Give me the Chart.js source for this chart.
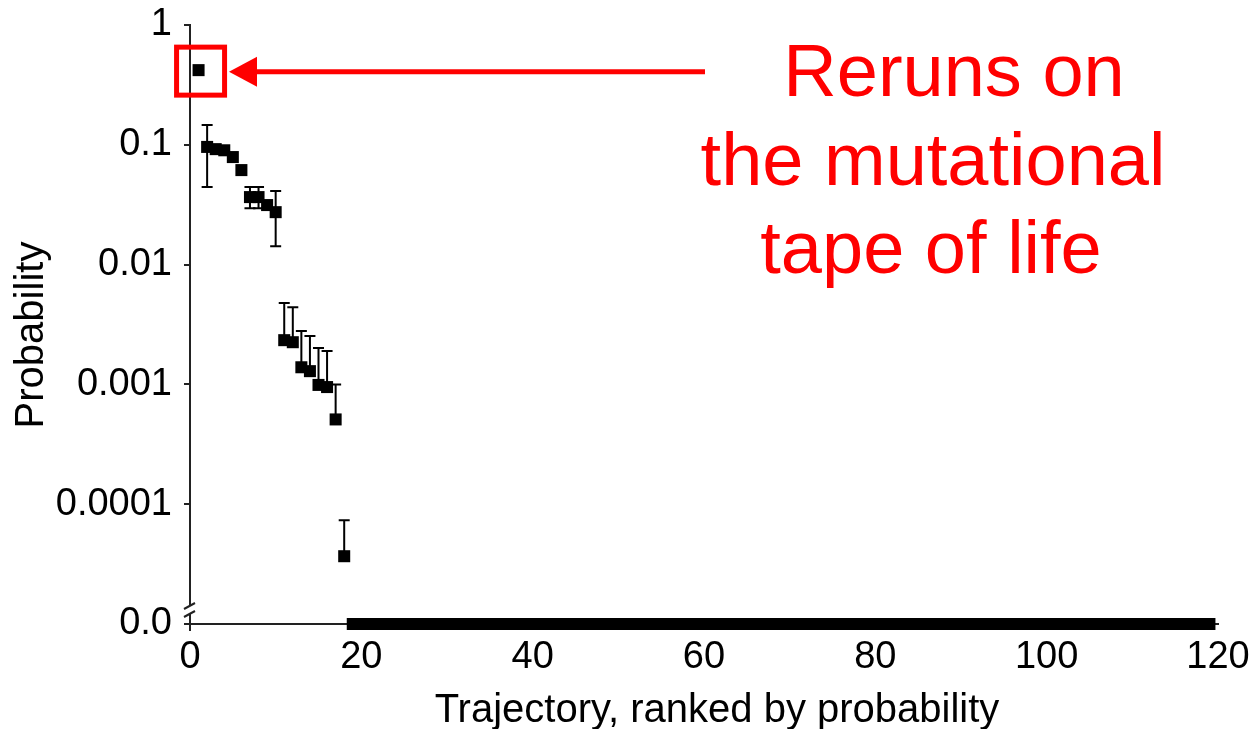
<!DOCTYPE html>
<html>
<head>
<meta charset="utf-8">
<title>Trajectory probability</title>
<script src="https://cdn.jsdelivr.net/npm/chart.js@4.4.1/dist/chart.umd.min.js"></script>
<style>
  html, body { margin: 0; padding: 0; background: #fff; }
  #wrap { width: 1255px; height: 729px; }
</style>
</head>
<body>
<div id="wrap"><canvas id="chart" width="1255" height="729"></canvas></div>
<script>
// trajectories seen at least once, ranked by probability
const ranks = [1, 2, 3, 4, 5, 6, 7, 8, 9, 10, 11, 12, 13, 14, 15, 16, 17, 18];
const probs = [0.42, 0.096, 0.092, 0.090, 0.079, 0.0615, 0.0366, 0.0366, 0.0314, 0.0274,
               0.00234, 0.00225, 0.00139, 0.00129, 0.00099, 0.00095, 0.00051, 0.0000368];
// error bar ends (null = not visible)
const errUpper = [null, 0.146, null, null, null, null, 0.0444, 0.0444, null, 0.0411,
                  0.00477, 0.00441, 0.00279, 0.00253, 0.00201, 0.0019, 0.001, 0.0000735];
const errLower = [null, 0.0444, null, null, null, null, 0.0296, 0.0296, null, 0.01426,
                  null, null, null, null, null, null, null, null];
// trajectories never observed (probability 0): first and last rank
const zeroRanks = [19, 119];

const xTicks = [0, 20, 40, 60, 80, 100, 120];
const yTicks = [1, 0.1, 0.01, 0.001, 0.0001, 0];
const yTickLabels = ['1', '0.1', '0.01', '0.001', '0.0001', '0.0'];
const xTitle = 'Trajectory, ranked by probability';
const yTitle = 'Probability';
const noteLines = ['Reruns on', 'the mutational', 'tape of life'];

const Y_FLOOR = 1e-5; // where "0.0" sits below the axis break
const toY = p => (p > 0 ? p : Y_FLOOR);
const FONT = '"Liberation Sans", Arial, sans-serif';

const overlay = {
    id: 'overlay',
    afterDatasetsDraw(chart) {
        const ctx = chart.ctx;
        const xs = chart.scales.x, ys = chart.scales.y;
        ctx.save();
        ctx.strokeStyle = '#000';
        ctx.lineWidth = 2;
        ranks.forEach((r, i) => {
            const px = xs.getPixelForValue(r);
            const py = ys.getPixelForValue(probs[i]);
            [errUpper[i], errLower[i]].forEach(e => {
                if (e == null) return;
                const ey = ys.getPixelForValue(e);
                ctx.beginPath();
                ctx.moveTo(px, py);
                ctx.lineTo(px, ey);
                ctx.moveTo(px - 5.5, ey);
                ctx.lineTo(px + 5.5, ey);
                ctx.stroke();
            });
        });
        ctx.restore();
    },
    afterDraw(chart) {
        const ctx = chart.ctx;
        const area = chart.chartArea;
        const xs = chart.scales.x, ys = chart.scales.y;
        const ax = area.left, ab = area.bottom;
        ctx.save();

        // axis break on the y axis
        ctx.fillStyle = '#fff';
        ctx.fillRect(ax - 3, ab - 19, 6, 9);
        ctx.strokeStyle = '#222';
        ctx.lineWidth = 2;
        ctx.beginPath();
        ctx.moveTo(ax - 6, ab - 15); ctx.lineTo(ax + 5, ab - 21);
        ctx.moveTo(ax - 6, ab - 7); ctx.lineTo(ax + 5, ab - 13);
        ctx.moveTo(ax, ab); ctx.lineTo(ax, ab + 7);
        ctx.stroke();

        // axis titles
        ctx.fillStyle = '#000';
        ctx.font = '40px ' + FONT;
        ctx.textAlign = 'center';
        ctx.textBaseline = 'alphabetic';
        ctx.fillText(xTitle, 717, 722);
        ctx.save();
        ctx.translate(43, 335);
        ctx.rotate(-Math.PI / 2);
        ctx.fillText(yTitle, 0, 0);
        ctx.restore();

        // highlight of the most likely trajectory
        const p0x = xs.getPixelForValue(ranks[0]);
        const p0y = ys.getPixelForValue(probs[0]);
        ctx.strokeStyle = '#ff0000';
        ctx.lineWidth = 5;
        ctx.strokeRect(p0x - 22, p0y - 23, 48, 48);

        // arrow
        ctx.fillStyle = '#ff0000';
        ctx.beginPath();
        ctx.moveTo(705, p0y + 1.5);
        ctx.lineTo(250, p0y + 1.5);
        ctx.stroke();
        ctx.beginPath();
        ctx.moveTo(229, p0y + 1.5);
        ctx.lineTo(257, p0y - 13.5);
        ctx.lineTo(257, p0y + 16.5);
        ctx.closePath();
        ctx.fill();

        // note text
        ctx.font = '74px ' + FONT;
        const cx = [954, 933, 931];
        const by = [96, 185, 273];
        noteLines.forEach((t, i) => ctx.fillText(t, cx[i], by[i]));
        ctx.restore();
    }
};

new Chart(document.getElementById('chart'), {
    type: 'scatter',
    data: {
        datasets: [
            {
                data: ranks.map((r, i) => ({ x: r, y: toY(probs[i]) })),
                pointStyle: 'rect',
                pointRadius: 8.5,
                backgroundColor: '#000',
                borderWidth: 0,
                showLine: false,
                clip: false
            },
            {
                data: zeroRanks.map(r => ({ x: r, y: toY(0) })),
                showLine: true,
                borderColor: '#000',
                borderWidth: 12,
                borderCapStyle: 'butt',
                pointStyle: 'rect',
                pointRadius: 8.5,
                backgroundColor: '#000',
                pointBorderWidth: 0,
                clip: false
            }
        ]
    },
    options: {
        responsive: false,
        animation: false,
        events: [],
        layout: { padding: { top: 25, right: 37, left: 0, bottom: 0 } },
        plugins: { legend: { display: false }, tooltip: { enabled: false } },
        scales: {
            x: {
                type: 'linear',
                min: 0,
                max: 120,
                bounds: 'data',
                afterBuildTicks: s => { s.ticks = xTicks.map(v => ({ value: v })); },
                afterFit: s => { s.height = 105; },
                ticks: { color: '#000', font: { family: FONT, size: 38 }, padding: 3, maxRotation: 0 },
                grid: { display: false },
                border: { color: '#222', width: 2 }
            },
            y: {
                type: 'logarithmic',
                min: Y_FLOOR,
                max: 1,
                bounds: 'data',
                afterBuildTicks: s => { s.ticks = yTicks.map(v => ({ value: toY(v) })); },
                afterFit: s => { s.width = 190; },
                ticks: {
                    color: '#000',
                    font: { family: FONT, size: 38, lineHeight: 0.6 },
                    padding: 12,
                    callback: (v, i) => yTickLabels[i]
                },
                grid: { drawOnChartArea: false, tickLength: 6, color: '#222', lineWidth: 2 },
                border: { color: '#222', width: 2 }
            }
        }
    },
    plugins: [overlay]
});
</script>
</body>
</html>
